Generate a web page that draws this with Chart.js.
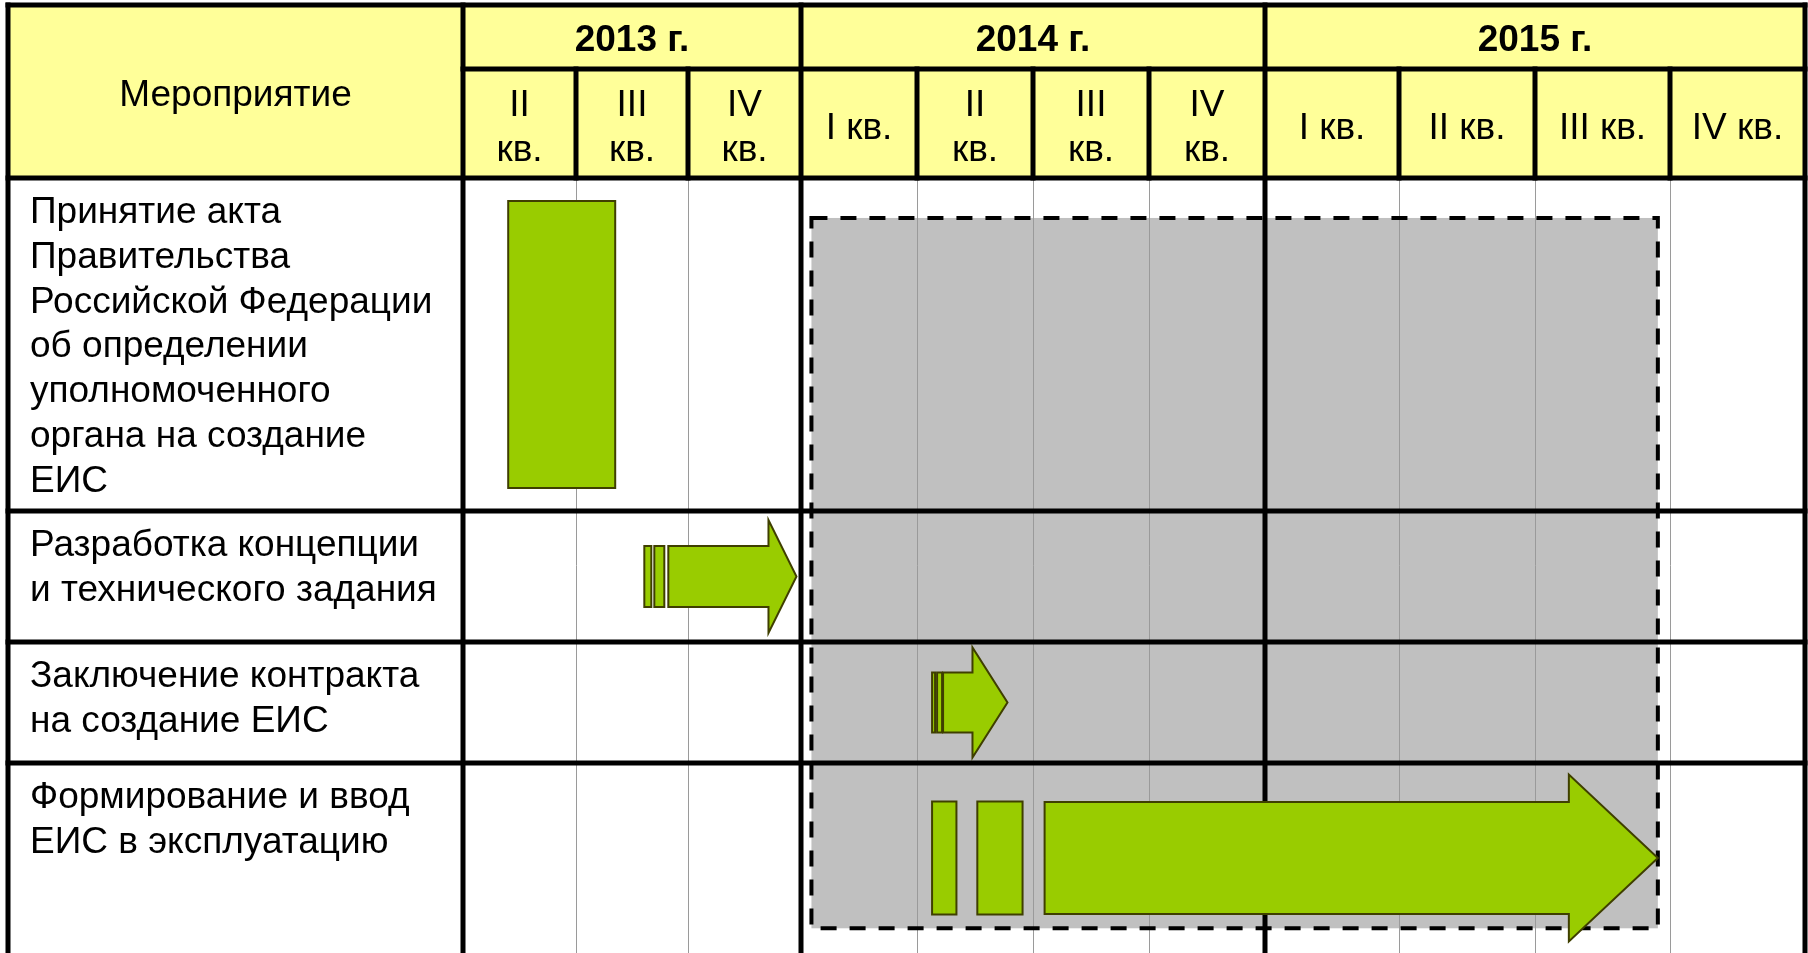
<!DOCTYPE html>
<html lang="ru">
<head>
<meta charset="utf-8">
<title>План создания ЕИС</title>
<script src="https://cdn.jsdelivr.net/npm/chart.js@4.4.1/dist/chart.umd.min.js"></script>
<style>
  html, body { margin: 0; padding: 0; background: #fff; }
  canvas { display: block; }
</style>
</head>
<body>
<canvas id="gantt" width="1808" height="953"></canvas>
<script>
// шапка таблицы
const headerTitle = 'Мероприятие';
const years = ['2013 г.', '2014 г.', '2015 г.'];
const yearQuarters = [3, 4, 4];
const quarterLabels = [
  ['II', 'кв.'], ['III', 'кв.'], ['IV', 'кв.'],
  ['I кв.'], ['II', 'кв.'], ['III', 'кв.'], ['IV', 'кв.'],
  ['I кв.'], ['II кв.'], ['III кв.'], ['IV кв.']
];

// строки (мероприятия)
const activities = [
  ['Принятие акта', 'Правительства', 'Российской Федерации', 'об определении', 'уполномоченного', 'органа на создание', 'ЕИС'],
  ['Разработка концепции', 'и технического задания'],
  ['Заключение контракта', 'на создание ЕИС'],
  ['Формирование и ввод', 'ЕИС в эксплуатацию']
];

// сроки, в кварталах от начала II кв. 2013 г.
const blockRow = [0, 3, 3];
const blockStart = [0.40, 4.13, 4.52];
const blockEnd = [1.35, 4.34, 4.91];

const arrowRow = [1, 2, 3];
const arrowStart = [1.61, 4.13, 5.10];
const arrowEnd = [2.96, 4.78, 9.91];

// серая область с пунктиром
const periodQuarters = [3.09, 9.91];
const periodRows = [0.12, 3.87];

// --- оформление ---
const colWidths = [113, 112, 113, 116, 116, 116, 116, 134, 136, 135, 135];
const rowHeights = [333, 131, 121, 190];
const blockHeight = [287, 113, 113];
const arrowBody = [61, 60, 112];
const arrowHead = [113, 110, 167];
const arrowHeadLen = [28, 35, 89];
const arrowStripes = [[7, 10, 20, 24], [3, 5, 10, 11], null];

const tableLeft = 8, tableTop = 5, yearRowBottom = 69;
const thick = 5;
const green = '#99CC00', greenEdge = '#3F3F00';
const font = '"Liberation Sans", Arial, sans-serif';

// шкала с колонками/строками разной ширины
class PiecewiseScale extends Chart.LinearScale {
  static id = 'piecewise';
  static defaults = Chart.LinearScale.defaults;
  sizes() { return this.isHorizontal() ? colWidths : rowHeights; }
  getPixelForValue(value) {
    const sizes = this.sizes();
    const total = sizes.reduce((s, v) => s + v, 0);
    const i = Math.min(Math.max(Math.floor(value), 0), sizes.length - 1);
    let acc = 0;
    for (let k = 0; k < i; k++) acc += sizes[k];
    acc += (value - i) * sizes[i];
    return this.isHorizontal()
      ? this.left + acc / total * this.width
      : this.top + acc / total * this.height;
  }
  getValueForPixel(pixel) {
    const sizes = this.sizes();
    const total = sizes.reduce((s, v) => s + v, 0);
    const len = this.isHorizontal() ? this.width : this.height;
    let rest = (pixel - (this.isHorizontal() ? this.left : this.top)) / len * total;
    for (let k = 0; k < sizes.length; k++) {
      if (rest <= sizes[k]) return k + rest / sizes[k];
      rest -= sizes[k];
    }
    return sizes.length;
  }
}
Chart.register(PiecewiseScale);

function hLine(ctx, y, x0, x1, w, color) {
  ctx.fillStyle = color || '#000';
  ctx.fillRect(x0 - w / 2, y - w / 2, x1 - x0 + w, w);
}
function vLine(ctx, x, y0, y1, w, color) {
  ctx.fillStyle = color || '#000';
  ctx.fillRect(x - w / 2, y0 - w / 2, w, y1 - y0 + w);
}

const tablePlugin = {
  id: 'table',
  beforeDatasetsDraw(chart) {
    const { ctx, chartArea: a } = chart;
    const x = chart.scales.x, y = chart.scales.y;
    const right = x.getPixelForValue(colWidths.length);
    ctx.save();
    // жёлтая шапка
    ctx.fillStyle = '#FFFF99';
    ctx.fillRect(tableLeft, tableTop, right - tableLeft, a.top - tableTop);

    // серая область
    const px0 = x.getPixelForValue(periodQuarters[0]), px1 = x.getPixelForValue(periodQuarters[1]);
    const py0 = y.getPixelForValue(periodRows[0]), py1 = y.getPixelForValue(periodRows[1]);
    ctx.fillStyle = '#C0C0C0';
    ctx.fillRect(px0, py0, px1 - px0, py1 - py0);

    // тонкие линии кварталов в теле таблицы
    const yearEdges = [];
    let acc = 0;
    yearQuarters.forEach(n => { acc += n; yearEdges.push(acc); });
    for (let q = 1; q < colWidths.length; q++) {
      if (yearEdges.includes(q)) continue;
      const qx = Math.round(x.getPixelForValue(q)) + 0.5;
      ctx.strokeStyle = '#9A9A9A';
      ctx.lineWidth = 1;
      ctx.beginPath();
      ctx.moveTo(qx, a.top);
      ctx.lineTo(qx, a.bottom);
      ctx.stroke();
      // толстые разделители в шапке
      vLine(ctx, x.getPixelForValue(q), yearRowBottom, a.top, thick);
    }

    // толстые линии
    hLine(ctx, tableTop, tableLeft, right, thick);
    hLine(ctx, yearRowBottom, x.getPixelForValue(0), right, thick);
    hLine(ctx, a.top, tableLeft, right, thick);
    for (let r = 1; r < rowHeights.length; r++) {
      hLine(ctx, y.getPixelForValue(r), tableLeft, right, thick);
    }
    vLine(ctx, tableLeft, tableTop, a.bottom + 10, thick);
    vLine(ctx, x.getPixelForValue(0), tableTop, a.bottom + 10, thick);
    yearEdges.forEach(q => vLine(ctx, x.getPixelForValue(q), tableTop, a.bottom + 10, thick));

    // пунктир вокруг серой области
    ctx.strokeStyle = '#000';
    ctx.lineWidth = 4;
    ctx.setLineDash([16, 13]);
    ctx.strokeRect(px0, py0, px1 - px0, py1 - py0);
    ctx.setLineDash([]);
    ctx.restore();
  },
  afterDatasetsDraw(chart) {
    const { ctx, chartArea: a } = chart;
    const x = chart.scales.x, y = chart.scales.y;
    ctx.save();
    ctx.fillStyle = green;
    ctx.strokeStyle = greenEdge;
    ctx.lineWidth = 2;
    ctx.lineJoin = 'miter';

    // прямоугольники
    blockRow.forEach((r, i) => {
      const x0 = x.getPixelForValue(blockStart[i]);
      const x1 = x.getPixelForValue(blockEnd[i]);
      const cy = y.getPixelForValue(r + 0.5);
      const h = blockHeight[i];
      ctx.fillRect(x0, cy - h / 2, x1 - x0, h);
      ctx.strokeRect(x0, cy - h / 2, x1 - x0, h);
    });

    // стрелки
    arrowRow.forEach((r, i) => {
      const xs = x.getPixelForValue(arrowStart[i]);
      const xe = x.getPixelForValue(arrowEnd[i]);
      const cy = y.getPixelForValue(r + 0.5);
      const hb = arrowBody[i] / 2, hh = arrowHead[i] / 2;
      const hx = xe - arrowHeadLen[i];
      const st = arrowStripes[i];
      const bx = st ? xs + st[3] : xs;
      if (st) {
        ctx.fillRect(xs, cy - hb, st[0], 2 * hb);
        ctx.strokeRect(xs, cy - hb, st[0], 2 * hb);
        ctx.fillRect(xs + st[1], cy - hb, st[2] - st[1], 2 * hb);
        ctx.strokeRect(xs + st[1], cy - hb, st[2] - st[1], 2 * hb);
      }
      ctx.beginPath();
      ctx.moveTo(bx, cy - hb);
      ctx.lineTo(hx, cy - hb);
      ctx.lineTo(hx, cy - hh);
      ctx.lineTo(xe, cy);
      ctx.lineTo(hx, cy + hh);
      ctx.lineTo(hx, cy + hb);
      ctx.lineTo(bx, cy + hb);
      ctx.closePath();
      ctx.fill();
      ctx.stroke();
    });

    // тексты шапки
    ctx.fillStyle = '#000';
    ctx.textAlign = 'center';
    ctx.textBaseline = 'alphabetic';
    ctx.font = '37px ' + font;
    ctx.fillText(headerTitle, (tableLeft + x.getPixelForValue(0)) / 2, 106);

    let q0 = 0;
    ctx.font = 'bold 37px ' + font;
    years.forEach((label, i) => {
      const cx = (x.getPixelForValue(q0) + x.getPixelForValue(q0 + yearQuarters[i])) / 2;
      ctx.fillText(label, cx, 51);
      q0 += yearQuarters[i];
    });

    ctx.font = '37px ' + font;
    quarterLabels.forEach((lines, q) => {
      const cx = (x.getPixelForValue(q) + x.getPixelForValue(q + 1)) / 2;
      if (lines.length === 1) {
        ctx.fillText(lines[0], cx, 139);
      } else {
        ctx.fillText(lines[0], cx, 116);
        ctx.fillText(lines[1], cx, 161);
      }
    });

    // названия мероприятий
    ctx.textAlign = 'left';
    ctx.font = '37px ' + font;
    activities.forEach((lines, r) => {
      const top = y.getPixelForValue(r);
      lines.forEach((line, k) => ctx.fillText(line, 30, top + 45 + k * 44.8));
    });
    ctx.restore();
  }
};

new Chart(document.getElementById('gantt'), {
  type: 'bar',
  data: { labels: [], datasets: [] },
  options: {
    responsive: false,
    animation: false,
    events: [],
    layout: { padding: { left: 463, top: 178, right: 3, bottom: 0 } },
    plugins: { legend: { display: false }, tooltip: { enabled: false } },
    scales: {
      x: { type: 'piecewise', min: 0, max: colWidths.length, display: false },
      y: { type: 'piecewise', min: 0, max: rowHeights.length, display: false }
    }
  },
  plugins: [tablePlugin]
});
</script>
</body>
</html>
